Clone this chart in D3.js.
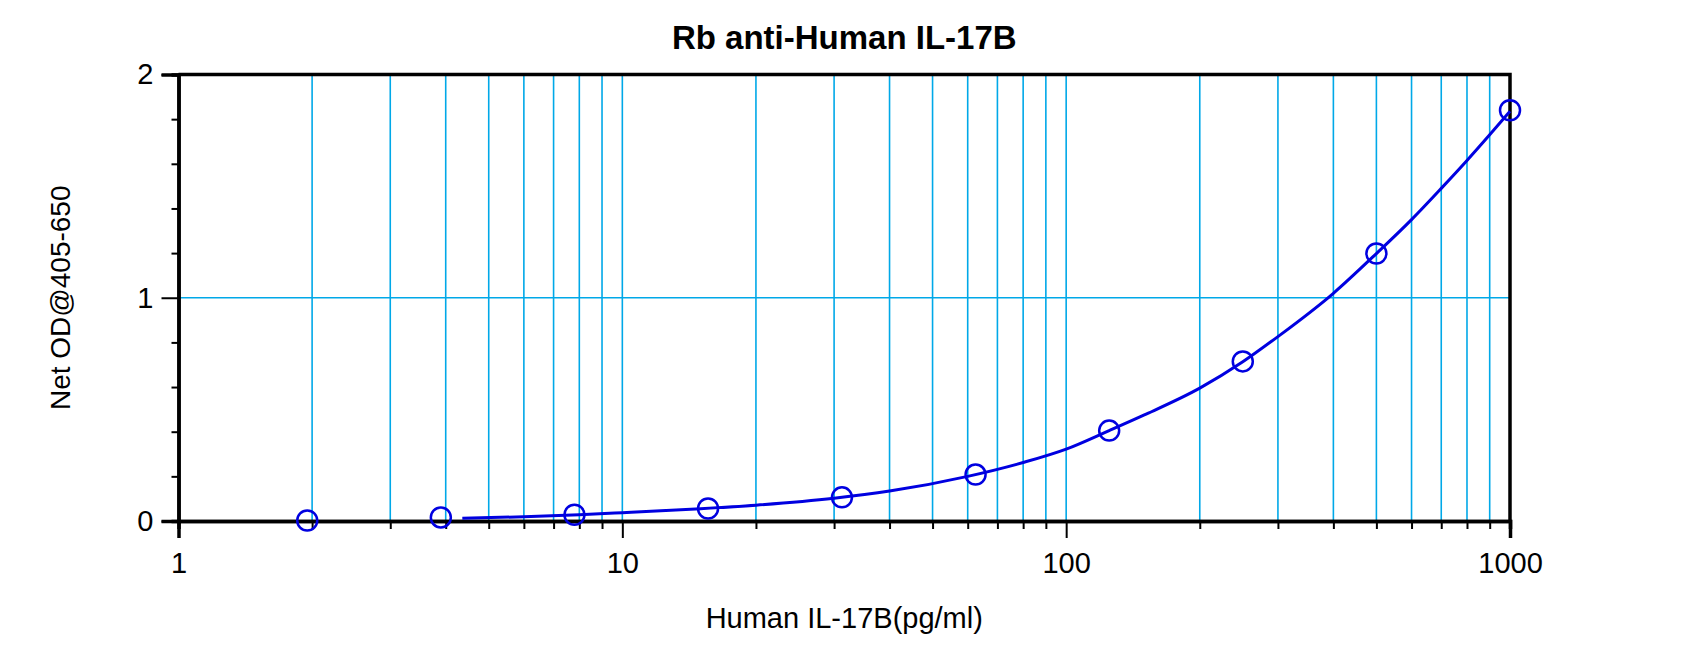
<!DOCTYPE html>
<html>
<head>
<meta charset="utf-8">
<script src="https://d3js.org/d3.v7.min.js"></script>
<style>
    body { margin: 0; background: #fff; }
    text { font-family: "Liberation Sans", Arial, sans-serif; }
</style>
</head>
<body>
<div id="chart"></div>
<script>
// Standard points (pg/ml, net OD)
const concentrations = [1.95, 3.9, 7.8, 15.6, 31.25, 62.5, 125, 250, 500, 1000];
const odValues = [0.002, 0.016, 0.028, 0.056, 0.106, 0.208, 0.405, 0.715, 1.198, 1.84];

// Fitted curve
const curveX = [4.36, 6, 8, 10, 15, 20, 30, 40, 60, 80, 100, 125, 150, 200, 250, 300, 400, 500, 600, 700, 800, 900, 1000];
const curveY = [0.012, 0.019, 0.028, 0.037, 0.055, 0.071, 0.102, 0.134, 0.2, 0.262, 0.322, 0.405, 0.475, 0.595, 0.713, 0.826, 1.02, 1.198, 1.35, 1.49, 1.615, 1.73, 1.835];

// Axis ticks
const xMajorTicks = [1, 10, 100, 1000];
const xMinorTicks = [2, 3, 4, 5, 6, 7, 8, 9, 20, 30, 40, 50, 60, 70, 80, 90, 200, 300, 400, 500, 600, 700, 800, 900];
const yMajorTicks = [0, 1, 2];
const yMinorTicks = [0.2, 0.4, 0.6, 0.8, 1.2, 1.4, 1.6, 1.8];

const chartTitle = "Rb anti-Human IL-17B";
const xLabel = "Human IL-17B(pg/ml)";
const yLabel = "Net OD@405-650";

class CurveVis {
    constructor(parentElement) {
        this.parentElement = parentElement;
        this.initVis();
    }

    initVis() {
        let vis = this;

        vis.margin = {top: 74.5, right: 190, bottom: 145, left: 178.5};
        vis.width = 1700 - vis.margin.left - vis.margin.right;
        vis.height = 666 - vis.margin.top - vis.margin.bottom;

        vis.root = d3.select("#" + vis.parentElement).append("svg")
            .attr("width", 1700)
            .attr("height", 666);

        vis.svg = vis.root.append("g")
            .attr("transform", `translate(${vis.margin.left},${vis.margin.top})`);

        // Scales
        vis.x = d3.scaleLog().domain([1, 1000]).range([0, vis.width]);
        vis.y = d3.scaleLinear().domain([0, 2]).range([vis.height, 0]);

        vis.updateVis();
    }

    updateVis() {
        let vis = this;
        const gridColor = "#00a8e8";
        const blue = "#0000e0";

        // vertical grid lines
        vis.svg.append("g")
            .selectAll("line")
            .data(xMinorTicks.concat([10, 100]))
            .enter()
            .append("line")
            .attr("x1", d => vis.x(d))
            .attr("x2", d => vis.x(d))
            .attr("y1", 0)
            .attr("y2", vis.height)
            .attr("stroke", gridColor)
            .attr("stroke-width", 1.6);

        // horizontal grid line
        vis.svg.append("line")
            .attr("x1", 0)
            .attr("x2", vis.width)
            .attr("y1", vis.y(1))
            .attr("y2", vis.y(1))
            .attr("stroke", gridColor)
            .attr("stroke-width", 1.6);

        // frame (top + right)
        vis.svg.append("path")
            .attr("d", `M0,${vis.y(2)}H${vis.x(1000)}V${vis.y(0)}`)
            .attr("fill", "none")
            .attr("stroke", "#000")
            .attr("stroke-width", 3.5);

        // axes
        let xMinor = d3.axisBottom(vis.x).tickValues(xMinorTicks).tickSize(8).tickFormat("");
        let xMajor = d3.axisBottom(vis.x).tickValues(xMajorTicks).tickSize(17).tickPadding(14)
            .tickFormat(d3.format("d"));
        let yMinor = d3.axisLeft(vis.y).tickValues(yMinorTicks).tickSize(7).tickFormat("");
        let yMajor = d3.axisLeft(vis.y).tickValues(yMajorTicks).tickSize(17).tickPadding(8)
            .tickFormat(d3.format("d"));

        [xMinor, xMajor].forEach(ax => {
            vis.svg.append("g")
                .attr("class", "axis")
                .attr("transform", `translate(0,${vis.height})`)
                .call(ax);
        });
        [yMinor, yMajor].forEach(ax => {
            vis.svg.append("g")
                .attr("class", "axis")
                .call(ax);
        });

        vis.svg.selectAll(".axis .domain")
            .attr("stroke", "#000")
            .attr("stroke-width", 3.5);
        vis.svg.selectAll(".axis .tick line")
            .attr("stroke", "#000")
            .attr("stroke-width", 2);
        vis.svg.selectAll(".axis text")
            .attr("fill", "#000")
            .style("font-size", "29px")
            .style("font-family", "'Liberation Sans', Arial, sans-serif");

        // fitted curve
        let line = d3.line()
            .x(d => vis.x(d[0]))
            .y(d => vis.y(d[1]))
            .curve(d3.curveMonotoneX);

        vis.svg.append("path")
            .datum(curveX.map((d, i) => [d, curveY[i]]))
            .attr("d", line)
            .attr("fill", "none")
            .attr("stroke", blue)
            .attr("stroke-width", 3);

        // standard points
        vis.svg.append("g")
            .selectAll("circle")
            .data(concentrations.map((d, i) => [d, odValues[i]]))
            .enter()
            .append("circle")
            .attr("cx", d => vis.x(d[0]))
            .attr("cy", d => vis.y(d[1]))
            .attr("r", 10)
            .attr("fill", "none")
            .attr("stroke", blue)
            .attr("stroke-width", 2.5);

        // title and labels
        vis.root.append("text")
            .attr("x", vis.margin.left + vis.width / 2)
            .attr("y", 49)
            .attr("text-anchor", "middle")
            .style("font-size", "33px")
            .style("font-weight", "bold")
            .text(chartTitle);

        vis.root.append("text")
            .attr("x", vis.margin.left + vis.width / 2)
            .attr("y", 628)
            .attr("text-anchor", "middle")
            .style("font-size", "29px")
            .text(xLabel);

        vis.root.append("text")
            .attr("transform", `translate(70,${vis.margin.top + vis.height / 2}) rotate(-90)`)
            .attr("text-anchor", "middle")
            .style("font-size", "28px")
            .text(yLabel);
    }
}

new CurveVis("chart");
</script>
</body>
</html>
